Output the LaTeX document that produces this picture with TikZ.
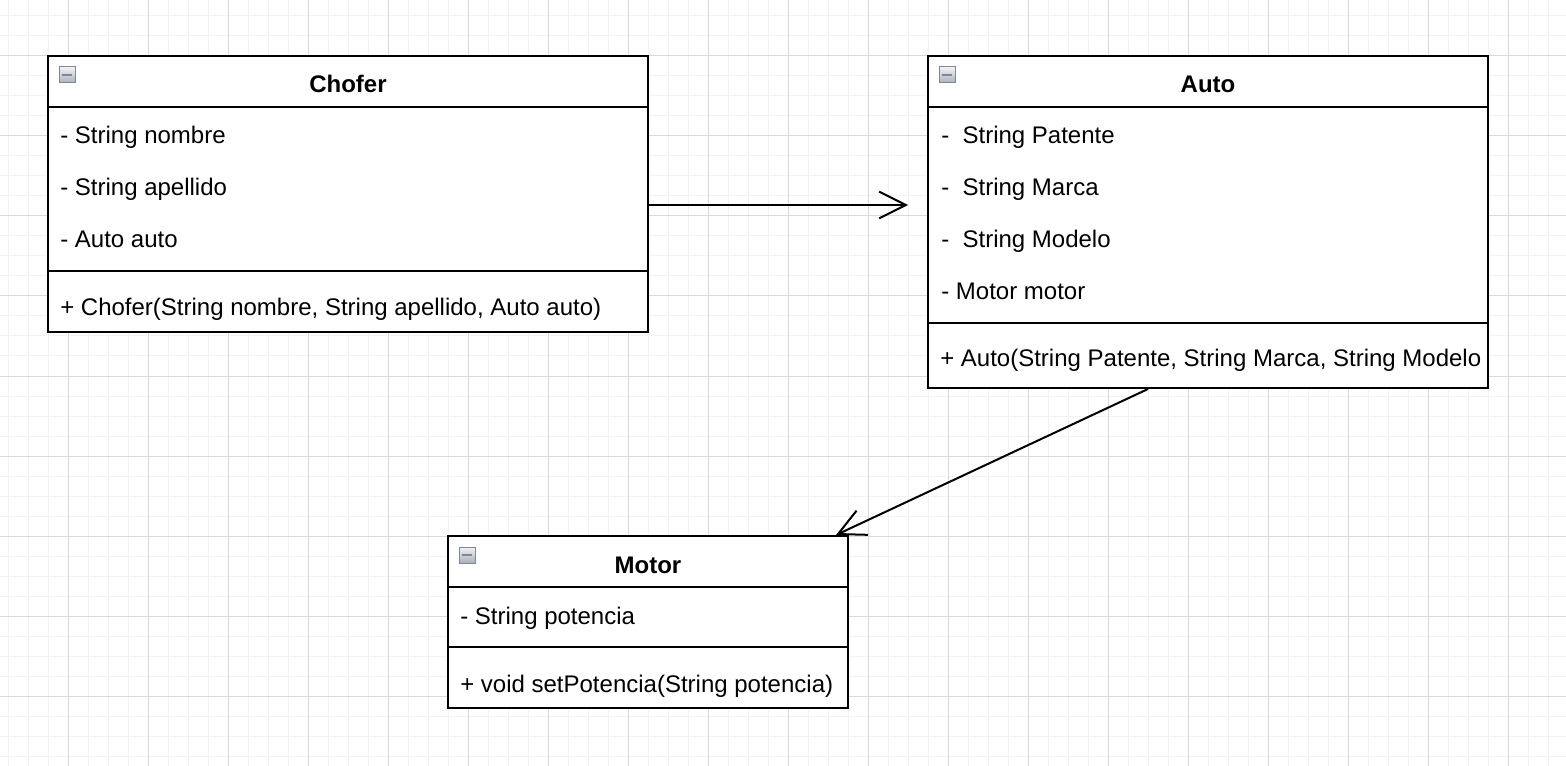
\documentclass[tikz,border=0pt]{standalone}
\usepackage{fontspec}
\setmainfont{Liberation Sans}
\usepackage{xcolor}
\usepackage{tikz}
\usetikzlibrary{arrows.meta}
\definecolor{gridminor}{HTML}{F2F2F2}
\definecolor{gridmajor}{HTML}{D9D9D9}
\definecolor{togglegray}{HTML}{7D879A}
\definecolor{togglefill}{HTML}{A9AFBB}

\begin{document}
\begin{tikzpicture}[x=0.75pt,y=0.75pt,yscale=-1,xscale=1,
	minorgrid/.style={draw=gridminor,line width=0.75pt},
	majorgrid/.style={draw=gridmajor,line width=0.75pt},
	classbox/.style={draw,fill=white,line width=1.5pt,inner sep=0pt},
	divider/.style={line width=1.5pt},
	member/.style={anchor=base west,inner sep=0pt,font=\fontsize{18}{21}\selectfont},
	classname/.style={anchor=base,inner sep=0pt,font=\fontsize{18}{21}\selectfont\bfseries},
	toggle/.style={draw=togglegray,line width=0.75pt,top color=gray!10,bottom color=togglefill,minimum size=12pt,inner sep=0pt,
		path picture={\draw[line width=1.5pt] ([xshift=2pt]path picture bounding box.west) -- ([xshift=-2pt]path picture bounding box.east);}},
	assoc/.style={line width=1.5pt,-{Straight Barb[length=20pt,width=20pt]}}]
	\useasboundingbox (0,0) rectangle (1566,766);
	
	%Grid
	\foreach \gx in {8,28,...,1566} \draw[minorgrid] (\gx,0) -- (\gx,766);
	\foreach \gy in {16,36,...,766} \draw[minorgrid] (0,\gy) -- (1566,\gy);
	\foreach \gx in {68,148,...,1566} \draw[majorgrid] (\gx,0) -- (\gx,766);
	\foreach \gy in {56,136,...,766} \draw[majorgrid] (0,\gy) -- (1566,\gy);
	
	%Shape: Class [chofer]
	\node[classbox,minimum width=450pt,minimum height=207pt] (chofer) at (348,194) {};
	\draw[divider] ([yshift=39pt]chofer.north west) -- ([yshift=39pt]chofer.north east);
	\draw[divider] ([yshift=162pt]chofer.north west) -- ([yshift=162pt]chofer.north east);
	\node[toggle] (chofer-toggle) at (67,75) {};
	% Text Node
	\node[classname] (chofer-name) at (348,93) {Chofer};
	\node[member] (chofer-nombre) at (60,144) {- String nombre};
	\node[member] (chofer-apellido) at (60,196) {- String apellido};
	\node[member] (chofer-auto) at (60,248) {- Auto auto};
	\node[member] (chofer-ctor) at (60,316) {+ Chofer(String nombre, String apellido, Auto auto)};
	
	%Shape: Class [auto]
	\node[classbox,minimum width=420pt,minimum height=249pt] (auto) at (1208,222) {};
	\draw[divider] ([yshift=39pt]auto.north west) -- ([yshift=39pt]auto.north east);
	\draw[divider] ([yshift=201pt]auto.north west) -- ([yshift=201pt]auto.north east);
	\node[toggle] (auto-toggle) at (947,75) {};
	% Text Node
	\node[classname] (auto-name) at (1208,93) {Auto};
	\node[member] (auto-patente) at (941,144) {- \ String Patente};
	\node[member] (auto-marca) at (941,196) {- \ String Marca};
	\node[member] (auto-modelo) at (941,248) {- \ String Modelo};
	\node[member] (auto-motor) at (941,300) {- Motor motor};
	\node[member] (auto-ctor) at (940,367) {+ Auto(String Patente, String Marca, String Modelo};
	
	%Shape: Class [motor]
	\node[classbox,minimum width=300pt,minimum height=129pt] (motor) at (648,622) {};
	\draw[divider] ([yshift=39pt]motor.north west) -- ([yshift=39pt]motor.north east);
	\draw[divider] ([yshift=84pt]motor.north west) -- ([yshift=84pt]motor.north east);
	\node[toggle] (motor-toggle) at (467,555) {};
	% Text Node
	\node[classname] (motor-name) at (648,573) {Motor};
	\node[member] (motor-potencia) at (460,624) {- String potencia};
	\node[member] (motor-set) at (460,692) {+ void setPotencia(String potencia)};
	
	%Straight Lines [chofer -> auto]
	\coordinate (autotip) at (908,205);
	\draw[assoc] (chofer.east |- autotip) -- (autotip);
	%Straight Lines [auto -> motor]
	\draw[assoc] ([xshift=-45pt]auto.south) -- ([xshift=-9.75pt]motor.north east);
	
\end{tikzpicture}
\end{document}
